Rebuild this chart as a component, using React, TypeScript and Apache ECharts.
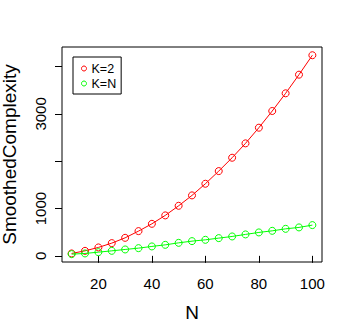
import React, { useEffect, useRef } from "react";
import * as echarts from "echarts";

const nValues = [10, 15, 20, 25, 30, 35, 40, 45, 50, 55, 60, 65, 70, 75, 80, 85, 90, 95, 100];
const k2Values = [51, 106, 178, 269, 381, 523, 677, 855, 1058, 1278, 1524, 1792, 2074, 2378, 2709, 3062, 3436, 3830, 4241];
const kNValues = [36, 51, 78, 106, 135, 163, 199, 233, 275, 311, 339, 375, 410, 453, 495, 529, 571, 601, 650];
const xTicks = [20, 40, 60, 80, 100];
const yTicks = [0, 1000, 2000, 3000, 4000];
const yLabels = [0, 1000, 3000];

const FONT = "Liberation Sans, Arial, Helvetica, sans-serif";

export default function App() {
  const ref = useRef<HTMLDivElement>(null);
  useEffect(() => {
    const chart = echarts.init(ref.current!, null, { renderer: "svg" });
    chart.setOption({
      animation: false,
      backgroundColor: "#fff",
      textStyle: { fontFamily: FONT },
      grid: {
        left: 62,
        right: 32,
        top: 47,
        bottom: 62,
        containLabel: false,
        outerBoundsMode: "none",
        show: true,
        borderColor: "#000",
        borderWidth: 1,
        backgroundColor: "transparent",
      },
      legend: {
        left: 73,
        top: 57,
        orient: "vertical",
        borderColor: "#000",
        borderWidth: 1,
        borderRadius: 0,
        padding: [5, 5, 4, 8],
        itemGap: 2,
        itemWidth: 5,
        itemHeight: 5,
        icon: "circle",
        textStyle: { fontFamily: FONT, fontSize: 12.5, lineHeight: 12, color: "#000", padding: [0, 0, 0, 0] },
        data: [
          { name: "K=2", itemStyle: { color: "transparent", borderColor: "#FF0000", borderWidth: 1 } },
          { name: "K=N", itemStyle: { color: "transparent", borderColor: "#00FF00", borderWidth: 1 } },
        ],
      },
      xAxis: {
        type: "value",
        min: 6.4,
        max: 103.6,
        name: "N",
        nameLocation: "middle",
        nameGap: 41,
        nameTextStyle: { fontFamily: FONT, fontSize: 19, color: "#000" },
        axisLine: { show: false },
        axisTick: { show: true, length: 7, lineStyle: { color: "#000" }, customValues: xTicks },
        axisLabel: { fontFamily: FONT, fontSize: 15, color: "#000", margin: 14, customValues: xTicks, formatter: (v: number) => String(v) },
        splitLine: { show: false },
      },
      yAxis: {
        type: "value",
        min: -130,
        max: 4415,
        name: "SmoothedComplexity",
        nameLocation: "middle",
        nameGap: 43,
        nameTextStyle: { fontFamily: FONT, fontSize: 19, color: "#000" },
        axisLine: { show: false },
        axisTick: { show: true, length: 7, lineStyle: { color: "#000" }, customValues: yTicks },
        axisLabel: { fontFamily: FONT, fontSize: 15, color: "#000", rotate: 90, margin: 14, customValues: yLabels, formatter: (v: number) => String(v) },
        splitLine: { show: false },
      },
      series: [
        {
          name: "K=2",
          type: "line",
          data: nValues.map((n, i) => [n, k2Values[i]]),
          symbol: "circle",
          symbolSize: 7,
          lineStyle: { color: "#FF0000", width: 1 },
          itemStyle: { color: "transparent", borderColor: "#FF0000", borderWidth: 1 },
          z: 2,
        },
        {
          name: "K=N",
          type: "line",
          data: nValues.map((n, i) => [n, kNValues[i]]),
          symbol: "circle",
          symbolSize: 7,
          lineStyle: { color: "#00FF00", width: 1 },
          itemStyle: { color: "transparent", borderColor: "#00FF00", borderWidth: 1 },
          z: 3,
        },
      ],
    });
    return () => chart.dispose();
  }, []);
  return <div ref={ref} style={{ width: 354, height: 324, position: "absolute", left: 0, top: 0 }} />;
}
